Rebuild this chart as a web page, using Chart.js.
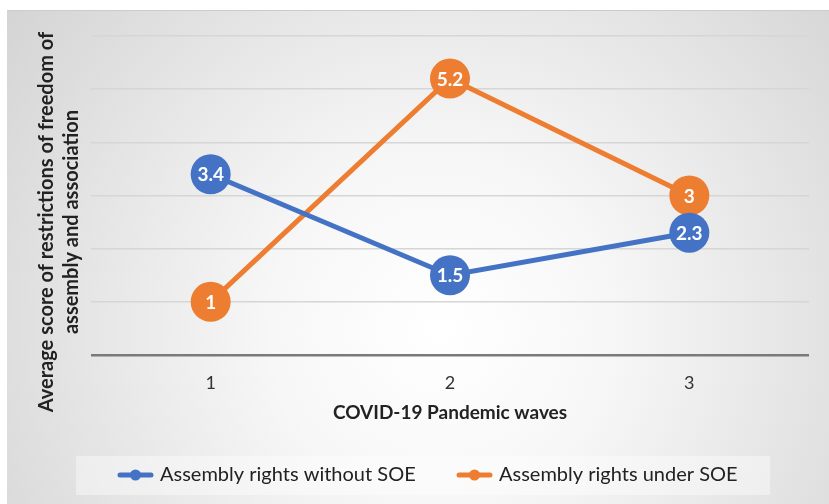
<!DOCTYPE html>
<html><head><meta charset="utf-8">
<script src="https://cdn.jsdelivr.net/npm/chart.js@4/dist/chart.umd.min.js"></script>
<style>html,body{margin:0;padding:0;background:#fff}#wrap{width:829px;height:504px;position:relative}</style>
</head><body><div id="wrap"><canvas id="c" width="829" height="504"></canvas></div>
<script>
const waves = ['1', '2', '3'];
const withoutSOE = [3.4, 1.5, 2.3];
const underSOE = [1, 5.2, 3];
const seriesNames = ['Assembly rights without SOE', 'Assembly rights under SOE'];
const xTitle = 'COVID-19 Pandemic waves';
const yTitleLines = ['Average score of restrictions of freedom of', 'assembly and association'];
const colors = ['#4472C4', '#ED7D31'];
const FONT = 'Lato, Carlito, "Open Sans", sans-serif';

const bgPlugin = {
  id: 'bg',
  beforeDraw(chart) {
    const ctx = chart.ctx;
    ctx.save();
    const g = ctx.createRadialGradient(440, 330, 0, 440, 330, 560);
    g.addColorStop(0, '#ffffff');
    g.addColorStop(0.3, '#f7f7f7');
    g.addColorStop(1, '#d2d2d2');
    ctx.fillStyle = g;
    ctx.fillRect(7, 10, 822, 494);
    ctx.strokeStyle = '#cccccc';
    ctx.lineWidth = 1;
    ctx.beginPath(); ctx.moveTo(7, 10.5); ctx.lineTo(829, 10.5); ctx.stroke();
    ctx.restore();
  },
  afterDraw(chart) {
    const ctx = chart.ctx;
    ctx.save();
    // data labels
    ctx.fillStyle = '#ffffff';
    ctx.font = 'bold 19px ' + FONT;
    ctx.textAlign = 'center';
    ctx.textBaseline = 'middle';
    chart.data.datasets.forEach((ds, i) => {
      chart.getDatasetMeta(i).data.forEach((pt, j) => {
        ctx.fillText(String(ds.data[j]), pt.x, pt.y + 1);
      });
    });
    // y title
    ctx.fillStyle = '#222';
    ctx.font = 'bold 20px ' + FONT;
    ctx.translate(47, 222);
    ctx.rotate(-Math.PI / 2);
    ctx.fillText(yTitleLines[0], 0, 0);
    ctx.fillText(yTitleLines[1], 0, 25);
    ctx.restore();
    // legend
    ctx.save();
    ctx.fillStyle = 'rgba(255,255,255,0.4)';
    ctx.fillRect(76, 456, 694, 39);
    ctx.font = '20px ' + FONT;
    ctx.textBaseline = 'middle';
    ctx.textAlign = 'left';
    const items = [{x: 118, label: seriesNames[0], c: colors[0]}, {x: 457, label: seriesNames[1], c: colors[1]}];
    items.forEach(it => {
      ctx.strokeStyle = it.c; ctx.lineWidth = 5; ctx.lineCap = 'round';
      ctx.beginPath(); ctx.moveTo(it.x + 2, 475); ctx.lineTo(it.x + 33, 475); ctx.stroke();
      ctx.fillStyle = it.c;
      ctx.beginPath(); ctx.arc(it.x + 17.5, 475, 5.5, 0, Math.PI * 2); ctx.fill();
      ctx.fillStyle = '#222';
      ctx.fillText(it.label, it.x + 42, 475);
    });
    ctx.restore();
  }
};

new Chart(document.getElementById('c'), {
  type: 'line',
  data: {
    labels: waves,
    datasets: [
      {label: seriesNames[0], data: withoutSOE, borderColor: colors[0], backgroundColor: colors[0], borderWidth: 5, pointRadius: 20, pointHoverRadius: 20, pointBorderWidth: 0},
      {label: seriesNames[1], data: underSOE, borderColor: colors[1], backgroundColor: colors[1], borderWidth: 5, pointRadius: 20, pointHoverRadius: 20, pointBorderWidth: 0}
    ]
  },
  options: {
    responsive: false,
    animation: false,
    events: [],
    layout: {padding: {left: 0, right: 18, top: 36, bottom: 79}},
    plugins: {legend: {display: false}, tooltip: {enabled: false}},
    scales: {
      x: {
        offset: true,
        grid: {display: false, drawTicks: false},
        border: {display: false},
        ticks: {padding: 17, color: '#333', font: {family: FONT, size: 18}},
        title: {display: true, text: xTitle, color: '#222', font: {family: FONT, size: 19, weight: 'bold'}, padding: {top: 0, bottom: 1}},
        afterFit(s) { s.height = 70; }
      },
      y: {
        min: 0, max: 6,
        ticks: {display: false, stepSize: 1},
        border: {display: false},
        grid: {
          drawTicks: false,
          color: (c) => c.tick && c.tick.value === 0 ? '#7a7a7a' : '#d6d6d6',
          lineWidth: (c) => c.tick && c.tick.value === 0 ? 2.5 : 1.5
        },
        afterFit(s) { s.width = 91; }
      }
    }
  },
  plugins: [bgPlugin]
});
</script></body></html>
